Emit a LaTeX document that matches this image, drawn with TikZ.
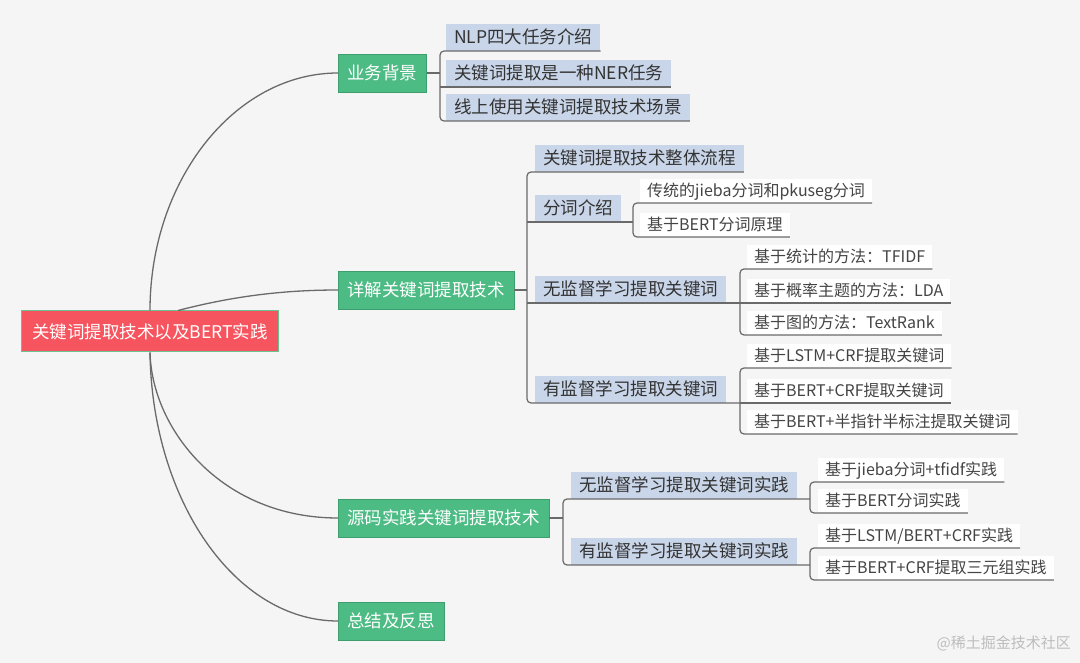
\documentclass[tikz,border=0pt]{standalone}
\usepackage{fontspec}
\setmainfont{Noto Sans CJK SC}
\usetikzlibrary{calc}
\definecolor{bgc}{HTML}{F5F5F5}
\definecolor{rootfill}{HTML}{F6555F}
\definecolor{rootline}{HTML}{6CC192}
\definecolor{greenfill}{HTML}{4CBB84}
\definecolor{greenline}{HTML}{3E9E6E}
\definecolor{bluefill}{HTML}{C9D5E8}
\definecolor{textdark}{HTML}{333333}
\definecolor{textmid}{HTML}{444444}
\definecolor{linec}{HTML}{6A6A6A}
\definecolor{wmc}{HTML}{BDBDBD}
\begin{document}
\begin{tikzpicture}[x=1pt,y=-1pt,
  rootbox/.style={draw=rootline, line width=1pt, fill=rootfill, text=white,
    font=\fontsize{17.5}{21}\selectfont, inner xsep=11pt, inner ysep=0pt,
    minimum height=41pt, text height=15.4pt, text depth=2.1pt},
  topicbox/.style={draw=greenline, line width=0.8pt, fill=greenfill, text=white,
    font=\fontsize{17.5}{21}\selectfont, inner xsep=9pt, inner ysep=0pt,
    minimum height=38pt, text height=15.4pt, text depth=2.1pt, anchor=west},
  subbox/.style={fill=bluefill, text=textdark,
    font=\fontsize{17.5}{21}\selectfont, inner xsep=8pt, inner ysep=0pt,
    minimum height=27pt, text height=15.4pt, text depth=2.1pt, anchor=south west},
  leafbox/.style={fill=white, text=textmid,
    font=\fontsize{16}{19}\selectfont, inner xsep=7pt, inner ysep=0pt,
    minimum height=24pt, text height=14.1pt, text depth=1.9pt, anchor=south west},
  link/.style={draw=linec, line width=1.2pt},
  bracket/.style={link, rounded corners=4pt},
  curve/.style={draw=linec, line width=1.3pt}]
\fill[bgc] (0,0) rectangle (1080,663);
\useasboundingbox (0,0) rectangle (1080,663);

% root and main topics
\node[rootbox] (root) at (150,331.5) {关键词提取技术以及BERT实践};
\node[topicbox] (g1) at (338,73) {业务背景};
\node[topicbox] (g2) at (338,290) {详解关键词提取技术};
\node[topicbox] (g3) at (338,518) {源码实践关键词提取技术};
\node[topicbox] (g4) at (338,621) {总结及反思};

% bracket x positions
\coordinate (xb) at (440,0);
\coordinate (xd) at (527,0);
\coordinate (xd2) at (633,0);
\coordinate (xd3) at (740,0);
\coordinate (xs) at (563,0);
\coordinate (xs1) at (810,0);

% 业务背景
\node[subbox] (b1) at (446,51) {NLP四大任务介绍};
\node[subbox] (b2) at (446,87) {关键词提取是一种NER任务};
\node[subbox] (b3) at (446,121) {线上使用关键词提取技术场景};

% 详解关键词提取技术
\node[subbox] (d1) at (535,172) {关键词提取技术整体流程};
\node[subbox] (d2) at (535,222) {分词介绍};
\node[subbox] (d3) at (535,303) {无监督学习提取关键词};
\node[subbox] (d4) at (535,403) {有监督学习提取关键词};

\node[leafbox] (d2a) at (640,203) {传统的jieba分词和pkuseg分词};
\node[leafbox] (d2b) at (640,237) {基于BERT分词原理};
\node[leafbox] (d3a) at (747,269) {基于统计的方法：TFIDF};
\node[leafbox] (d3b) at (747,303) {基于概率主题的方法：LDA};
\node[leafbox] (d3c) at (747,335) {基于图的方法：TextRank};
\node[leafbox] (d4a) at (747,368) {基于LSTM+CRF提取关键词};
\node[leafbox] (d4b) at (747,403) {基于BERT+CRF提取关键词};
\node[leafbox] (d4c) at (747,434) {基于BERT+半指针半标注提取关键词};

% 源码实践关键词提取技术
\node[subbox] (s1) at (571,499) {无监督学习提取关键词实践};
\node[subbox] (s2) at (571,565) {有监督学习提取关键词实践};
\node[leafbox] (s1a) at (818,482) {基于jieba分词+tfidf实践};
\node[leafbox] (s1b) at (818,513) {基于BERT分词实践};
\node[leafbox] (s2a) at (818,548) {基于LSTM/BERT+CRF实践};
\node[leafbox] (s2b) at (818,580) {基于BERT+CRF提取三元组实践};

% curves from root
\draw[curve] (root.north) .. controls (150,180) and (235,73) .. (g1.west);
\draw[curve] ([xshift=28pt]root.north) .. controls (230,297) and (280,290) .. (g2.west);
\draw[curve] (root.south) .. controls (152,430) and (222,518) .. (g3.west);
\draw[curve] (root.south) .. controls (152,500) and (235,621) .. (g4.west);

% 业务背景 connectors
\draw[link] (g1.east) -- (g1.east -| xb);
\draw[bracket] (b1.south east) -- (b1.south -| xb) -- (b3.south -| xb) -- (b3.south east);
\draw[link] (xb |- b2.south) -- (b2.south east);

% 详解 connectors
\draw[link] (g2.east) -- (g2.east -| xd);
\draw[bracket] (d1.south east) -- (d1.south -| xd) -- (d4.south -| xd) -- (d4.south -| xd3);
\draw[link] (xd |- d2.south) -- (d2.south -| xd2);
\draw[link] (xd |- d3.south) -- (d3.south -| xd3);

\draw[bracket] (d2a.south east) -- (d2a.south -| xd2) -- (d2b.south -| xd2) -- (d2b.south east);
\draw[bracket] (d3a.south east) -- (d3a.south -| xd3) -- (d3c.south -| xd3) -- (d3c.south east);
\draw[link] (xd3 |- d3b.south) -- (d3b.south east);
\draw[bracket] (d4a.south east) -- (d4a.south -| xd3) -- (d4c.south -| xd3) -- (d4c.south east);
\draw[link] (xd3 |- d4b.south) -- (d4b.south east);

% 源码 connectors
\draw[link] (g3.east) -- (g3.east -| xs);
\draw[bracket] (s1.south -| xs1) -- (s1.south -| xs) -- (s2.south -| xs) -- (s2.south -| xs1);
\draw[bracket] (s1a.south east) -- (s1a.south -| xs1) -- (s1b.south -| xs1) -- (s1b.south east);
\draw[bracket] (s2a.south east) -- (s2a.south -| xs1) -- (s2b.south -| xs1) -- (s2b.south east);

% watermark
\node[font=\fontsize{15}{18}\selectfont, text=wmc, anchor=east, inner sep=0pt] (wm) at (1071,643) {@稀土掘金技术社区};
\end{tikzpicture}
\end{document}
